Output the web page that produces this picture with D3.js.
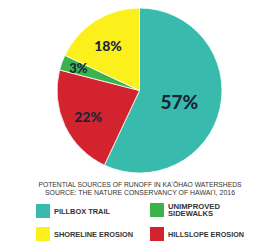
<!DOCTYPE html>
<html><head><meta charset="utf-8">
<script src="https://cdn.jsdelivr.net/npm/d3@7"></script>
<style>html,body{margin:0;padding:0;background:#fff;}svg{display:block;}</style>
</head><body>
<script>
const categories = ["Pillbox Trail", "Hillslope Erosion", "Unimproved Sidewalks", "Shoreline Erosion"];
const values = [57, 22, 3, 18];
const sliceColors = ["#38bbac", "#d2232e", "#3bb34a", "#fbef1c"];
const titleLines = ["POTENTIAL SOURCES OF RUNOFF IN KAʻŌHAO WATERSHEDS", "SOURCE: THE NATURE CONSERVANCY OF HAWAIʻI, 2016"];
const legendItems = [
  {lines: ["PILLBOX TRAIL"], color: "#38bbac"},
  {lines: ["UNIMPROVED", "SIDEWALKS"], color: "#3bb34a"},
  {lines: ["SHORELINE EROSION"], color: "#fbef1c"},
  {lines: ["HILLSLOPE EROSION"], color: "#d2232e"}
];

const W = 266, H = 241;
const svg = d3.select("body").append("svg").attr("width", W).attr("height", H);

const cx = 139.5, cy = 90.5, r = 82.5;
const pie = d3.pie().sort(null).value(d => d);
const arcs = pie(values);
const arc = d3.arc().innerRadius(0).outerRadius(r);
const g = svg.append("g").attr("transform", `translate(${cx},${cy})`);
g.selectAll("path").data(arcs).join("path")
  .attr("d", arc).attr("fill", (d, i) => sliceColors[i])
  .attr("stroke", "#fff").attr("stroke-width", 0.8);

// label placement: radius factor, angle nudge (deg) and font-size per slice
const labelR = [0.50, 0.70, 0.79, 0.67];
const labelNudge = [2.8, -2, 0.3, -2.3];
const labelSize = [19, 14, 13, 14];
g.selectAll("text.pct").data(arcs).join("text")
  .attr("class", "pct")
  .attr("transform", (d, i) => {
    const a = (d.startAngle + d.endAngle) / 2 + labelNudge[i] * Math.PI / 180;
    const rr = r * labelR[i];
    return `translate(${Math.sin(a) * rr},${-Math.cos(a) * rr})`;
  })
  .attr("text-anchor", "middle").attr("dominant-baseline", "central")
  .attr("font-family", "Lato, 'Open Sans', sans-serif").attr("font-weight", 900)
  .attr("font-size", (d, i) => labelSize[i])
  .attr("fill", "#18263a")
  .text(d => d.data + "%");

// title
const tW = [203, 190];
titleLines.forEach((t, i) => {
  svg.append("text").attr("x", 140).attr("y", 187 + i * 8)
    .attr("text-anchor", "middle")
    .attr("font-family", "'Liberation Sans', Arial, sans-serif").attr("font-size", 6.5)
    .attr("fill", "#333").attr("textLength", tW[i]).attr("lengthAdjust", "spacingAndGlyphs")
    .text(t);
});

// legend
const legPos = [[36, 204], [150, 203], [36, 227], [150, 227]];
const legW = [[56], [52, 45], [79], [76]];
legendItems.forEach((it, i) => {
  const [x, y] = legPos[i];
  svg.append("rect").attr("x", x).attr("y", y).attr("width", 14).attr("height", 14).attr("fill", it.color);
  const n = it.lines.length;
  it.lines.forEach((l, j) => {
    svg.append("text").attr("x", x + 18)
      .attr("y", y + 7 + (j - (n - 1) / 2) * 6.5)
      .attr("dominant-baseline", "central")
      .attr("font-family", "'Liberation Sans', Arial, sans-serif").attr("font-weight", "bold")
      .attr("font-size", 6.8).attr("fill", "#333")
      .attr("textLength", legW[i][j]).attr("lengthAdjust", "spacingAndGlyphs")
      .text(l);
  });
});
</script>
</body></html>
